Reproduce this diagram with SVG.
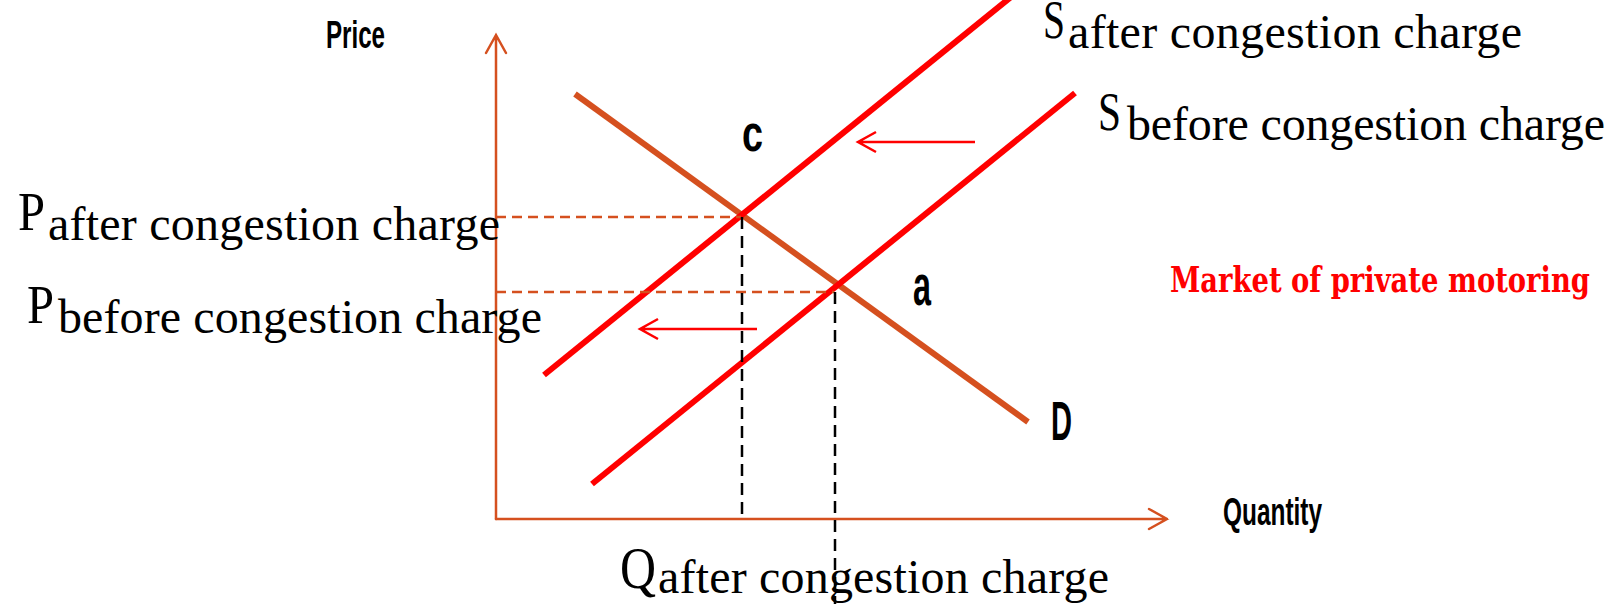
<svg xmlns="http://www.w3.org/2000/svg" width="1618" height="604" viewBox="0 0 1618 604">
<style>
.ax{stroke:#D5501F;stroke-width:2.5;fill:none;stroke-linecap:round}
.dem{stroke:#D5501F;stroke-width:6;fill:none}
.sup{stroke:#FF0000;stroke-width:6;fill:none}
.shift{stroke:#FF0000;stroke-width:2.5;fill:none}
.odash{stroke:#D5501F;stroke-width:2.5;stroke-dasharray:10 6;fill:none}
.kdash{stroke:#000;stroke-width:2.5;stroke-dasharray:12 7;fill:none}
.lab{font-family:"Liberation Sans Narrow","Liberation Sans",sans-serif;font-weight:bold;fill:#000}
.ser{font-family:"Liberation Serif",serif;fill:#000}
.mkt{font-family:"DejaVu Serif Condensed","DejaVu Serif",serif;font-weight:bold;fill:#FF0000}
</style>
<rect width="1618" height="604" fill="#FFFFFF"/>
<g id="axes">
<path class="ax" d="M496,519 V35 M486,53 L496,35 L506,53"/>
<path class="ax" d="M496,519 H1167 M1149,509 L1167,519 L1149,529"/>
</g>
<g id="curves">
<line id="demand" class="dem" x1="575" y1="94" x2="1028" y2="422"/>
<line id="supply-after" class="sup" x1="544" y1="375" x2="1011" y2="-3"/>
<line id="supply-before" class="sup" x1="592" y1="484" x2="1075" y2="93"/>
</g>
<g id="connectors">
<line class="odash" x1="496" y1="217" x2="741" y2="217"/>
<line class="odash" x1="496" y1="292" x2="834" y2="292"/>
<line class="kdash" x1="742" y1="217" x2="742" y2="519"/>
<line class="kdash" x1="835" y1="292" x2="835" y2="604"/>
<path class="shift" d="M975,142 H858 M876,132 L858,142 L876,152"/>
<path class="shift" d="M757,329 H640 M658,319 L640,329 L658,339"/>
</g>
<g id="label-price"><text class="lab" x="326" y="48" font-size="38" textLength="59" lengthAdjust="spacingAndGlyphs">Price</text></g>
<g id="label-quantity"><text class="lab" x="1223" y="525" font-size="38" textLength="99" lengthAdjust="spacingAndGlyphs">Quantity</text></g>
<g id="label-c"><text class="lab" x="742" y="151" font-size="52" textLength="21" lengthAdjust="spacingAndGlyphs">c</text></g>
<g id="label-a"><text class="lab" x="913" y="305" font-size="58" textLength="18" lengthAdjust="spacingAndGlyphs">a</text></g>
<g id="label-D"><text class="lab" x="1051" y="440" font-size="56" textLength="21" lengthAdjust="spacingAndGlyphs">D</text></g>
<g id="label-market"><text class="mkt" x="1170" y="292" font-size="36" textLength="420" lengthAdjust="spacingAndGlyphs">Market  of  private  motoring</text></g>
<g id="label-p-after">
<text class="ser" x="18" y="230" font-size="54" textLength="27" lengthAdjust="spacingAndGlyphs">P</text>
<text class="ser" x="48" y="240" font-size="48" textLength="452" lengthAdjust="spacing">after congestion charge</text>
</g>
<g id="label-p-before">
<text class="ser" x="27" y="323" font-size="54" textLength="27" lengthAdjust="spacingAndGlyphs">P</text>
<text class="ser" x="58" y="333" font-size="48" textLength="484" lengthAdjust="spacing">before congestion charge</text>
</g>
<g id="label-s-after">
<text class="ser" x="1043" y="38" font-size="54" textLength="22" lengthAdjust="spacingAndGlyphs">S</text>
<text class="ser" x="1068" y="48" font-size="48" textLength="454" lengthAdjust="spacing">after congestion charge</text>
</g>
<g id="label-s-before">
<text class="ser" x="1098" y="130" font-size="54" textLength="23" lengthAdjust="spacingAndGlyphs">S</text>
<text class="ser" x="1127" y="140" font-size="48" textLength="478" lengthAdjust="spacing">before congestion charge</text>
</g>
<g id="label-q-after">
<text class="ser" x="620" y="588" font-size="60" textLength="36" lengthAdjust="spacingAndGlyphs">Q</text>
<text class="ser" x="658" y="593" font-size="48" textLength="451" lengthAdjust="spacing">after congestion charge</text>
</g>
</svg>
